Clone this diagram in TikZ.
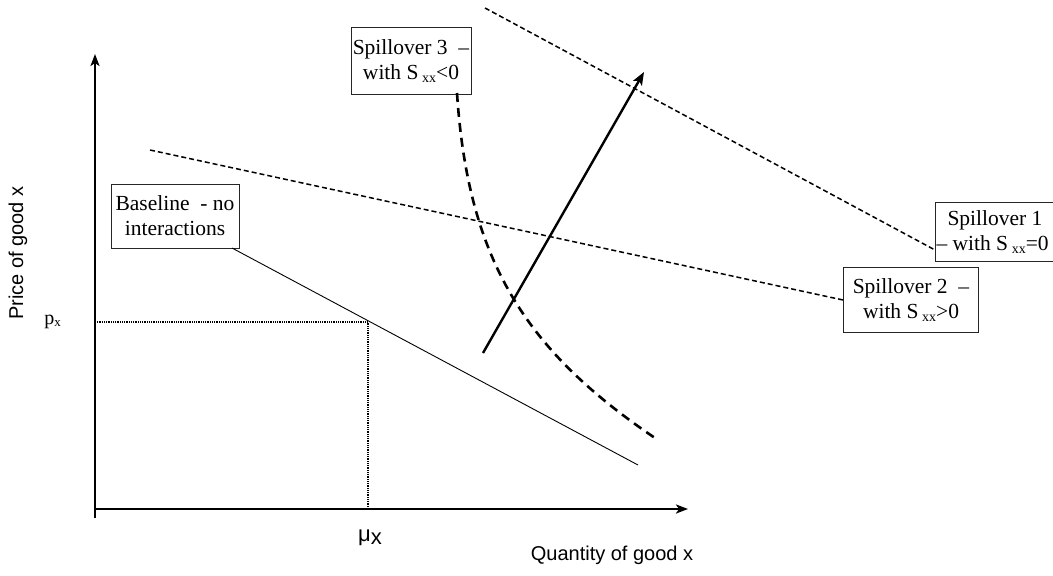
\documentclass[tikz,border=0pt]{standalone}
\usepackage{fontspec}
\setmainfont{Liberation Serif}
\setsansfont{Liberation Sans}
\usetikzlibrary{arrows.meta,positioning}
\newcommand{\subxx}{\,\raisebox{-3pt}{\fontsize{14}{14}\selectfont xx}}
\tikzset{
  axisline/.style={line width=2.4pt, draw=black, -{Stealth[length=12pt,width=9pt,inset=3pt]}},
  shiftarr/.style={line width=2.4pt, draw=black, -{Stealth[length=13pt,width=10pt,inset=3pt]}},
  guide/.style={line width=1.6pt, draw=black, dash pattern=on 1pt off 0.8pt},
  demand/.style={line width=0.9pt, draw=black},
  spill/.style={line width=1.5pt, draw=black, dash pattern=on 5pt off 3pt},
  spillbold/.style={line width=2.6pt, draw=black, dash pattern=on 9pt off 6pt},
  curvebox/.style={
    draw=black!85, line width=1pt, fill=white,
    align=center, inner sep=1pt,
    font=\fontsize{21.5}{25}\selectfont,
  },
  axislab/.style={font=\sffamily\fontsize{20}{24}\selectfont, inner sep=1pt},
  ticklab/.style={font=\fontsize{20}{22}\selectfont, inner sep=1pt},
}
\begin{document}
\begin{tikzpicture}[x=1pt,y=-1pt]
  \useasboundingbox (0,0) rectangle (1053,576);

  % axes
  \coordinate (origin) at (95,509);
  \coordinate (ybot) at (95,518);
  \coordinate (ytop) at (95,54);
  \coordinate (xend) at (688,509);
  \draw[axisline] (ybot) -- (ytop);
  \draw[axisline] (origin) -- (xend);
  \node[axislab, rotate=90] (ylab) at (18,253) {Price of good x};
  \node[axislab] (xlab) at (612,555) {Quantity of good x};

  % labels on the curves
  \node[curvebox, minimum width=128pt, minimum height=64pt] (base) at (175,216)
    {Baseline~ - no\\interactions};
  \node[curvebox, minimum width=120pt, minimum height=67pt] (s3) at (411,61)
    {Spillover 3~ --\\with S\subxx<0};
  \node[curvebox, minimum width=135pt, minimum height=65pt, anchor=west] (s2) at (843,300)
    {Spillover 2~ --\\with S\subxx>0};
  \node[curvebox, align=left, minimum height=59pt, anchor=west] (s1) at (935,232)
    {\hspace*{11pt}Spillover 1\\-- with S\subxx=0\hspace*{20pt}};

  % baseline and equilibrium
  \coordinate (eq) at (368,322);
  \coordinate (bl0) at (232,248);
  \coordinate (bl1) at (638,465);
  \draw[demand] (bl0) -- (bl1);
  \draw[guide] (eq -| origin) -- (eq) -- (eq |- origin);
  \node[ticklab, anchor=east] (px) at (62,322) {p\raisebox{-2pt}{\fontsize{13}{13}\selectfont x}};
  \node[axislab] (mux) at (370,538) {\fontsize{22}{24}\selectfont μ\raisebox{-3pt}{x}};

  % spillover curves
  \coordinate (s1a) at (485,8);
  \coordinate (s1b) at (935,250);
  \draw[spill] (s1a) -- (s1b);
  \coordinate (s2a) at (150,150);
  \draw[spill] (s2a) -- (s2.west);
  \coordinate (s3a) at (457,93);
  \coordinate (s3b) at (655,438);
  \draw[spillbold] (s3a) .. controls (468,260) and (525,350) .. (s3b);

  % shift
  \coordinate (sh0) at (483,353);
  \coordinate (sh1) at (644,72);
  \draw[shiftarr] (sh0) -- (sh1);
\end{tikzpicture}
\end{document}
